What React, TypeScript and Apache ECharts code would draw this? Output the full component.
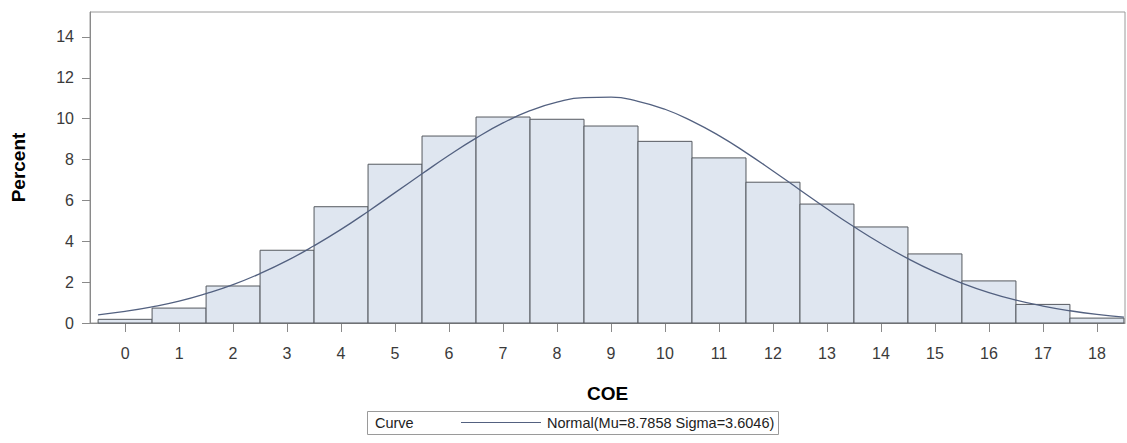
import React, { useEffect, useRef } from "react";
import * as echarts from "echarts";

const coeValues = [0, 1, 2, 3, 4, 5, 6, 7, 8, 9, 10, 11, 12, 13, 14, 15, 16, 17, 18];
const percentValues = [0.18, 0.73, 1.81, 3.56, 5.69, 7.77, 9.15, 10.08, 9.97, 9.64, 8.89, 8.08, 6.89, 5.82, 4.7, 3.38, 2.06, 0.91, 0.24];
const curveX = [-0.5, 0, 0.5, 1, 1.5, 2, 2.5, 3, 3.5, 4, 4.5, 5, 5.5, 6, 6.5, 7, 7.5, 8, 8.5, 9, 9.5, 10, 10.5, 11, 11.5, 12, 12.5, 13, 13.5, 14, 14.5, 15, 15.5, 16, 16.5, 17, 17.5, 18, 18.5];
const curveY = [0.40, 0.57, 0.79, 1.07, 1.44, 1.88, 2.42, 3.05, 3.78, 4.58, 5.46, 6.38, 7.3, 8.21, 9.05, 9.79, 10.39, 10.81, 11.03, 11.05, 10.85, 10.46, 9.88, 9.17, 8.34, 7.44, 6.51, 5.59, 4.71, 3.89, 3.15, 2.5, 1.95, 1.49, 1.12, 0.83, 0.6, 0.42, 0.29];
const yTicks = [0, 2, 4, 6, 8, 10, 12, 14];
const curveName = "Normal(Mu=8.7858 Sigma=3.6046)";

const FONT = "'Liberation Sans', Arial, sans-serif";

export default function App() {
  const ref = useRef<HTMLDivElement>(null);
  useEffect(() => {
    document.body.style.margin = "0";
    const chart = echarts.init(ref.current!, null, { renderer: "svg" });
    const barData = coeValues.map((c, i) => [c, percentValues[i]]);
    const lineData = curveX.map((x, i) => [x, curveY[i]]);
    chart.setOption({
      animation: false,
      textStyle: { fontFamily: FONT },
      grid: {
        left: 90,
        top: 12,
        right: 2,
        bottom: 120,
        show: true,
        borderColor: "#9a9a9a",
        borderWidth: 1,
      },
      xAxis: {
        type: "value",
        min: -0.65,
        max: 18.52,
        name: "COE",
        nameLocation: "middle",
        nameGap: 61,
        nameTextStyle: { fontFamily: FONT, fontSize: 19, fontWeight: "bold", color: "#000" },
        axisLine: { show: true, onZero: false, lineStyle: { color: "#8a8a8a" } },
        axisTick: { show: true, length: 9, customValues: coeValues, lineStyle: { color: "#8a8a8a" } },
        axisLabel: { customValues: coeValues, fontFamily: FONT, fontSize: 16, color: "#3a3a3a", margin: 22 },
        splitLine: { show: false },
      },
      yAxis: {
        type: "value",
        min: 0,
        max: 15.22,
        name: "Percent",
        nameLocation: "middle",
        nameRotate: 90,
        nameGap: 62,
        nameTextStyle: { fontFamily: FONT, fontSize: 19, fontWeight: "bold", color: "#000" },
        axisLine: { show: true, onZero: false, lineStyle: { color: "#8a8a8a" } },
        axisTick: { show: true, length: 8, customValues: yTicks, lineStyle: { color: "#8a8a8a" } },
        axisLabel: { customValues: yTicks, fontFamily: FONT, fontSize: 16, color: "#3a3a3a", margin: 16 },
        splitLine: { show: false },
      },
      legend: {
        left: 461,
        top: 415,
        padding: 0,
        icon: "rect",
        itemWidth: 80,
        itemHeight: 1,
        itemGap: 8,
        data: [curveName],
        textStyle: { fontFamily: FONT, fontSize: 14.5, color: "#222", padding: [0, 0, 0, 1] },
      },
      graphic: [
        {
          type: "rect",
          shape: { x: 367.5, y: 411.5, width: 411, height: 23 },
          style: { fill: "none", stroke: "#9a9a9a", lineWidth: 1 },
        },
        {
          type: "text",
          x: 375,
          y: 423,
          style: { text: "Curve", fontFamily: FONT, fontSize: 14.5, fill: "#222", verticalAlign: "middle" },
        },
      ],
      series: [
        {
          type: "custom",
          name: "Bars",
          data: barData,
          renderItem: (params: any, api: any) => {
            const x = api.value(0);
            const y = api.value(1);
            const p0 = api.coord([x - 0.5, y]);
            const p1 = api.coord([x + 0.5, 0]);
            return {
              type: "rect",
              shape: { x: p0[0], y: p0[1], width: p1[0] - p0[0], height: p1[1] - p0[1] },
              style: { fill: "#dfe6f0", stroke: "#55595f", lineWidth: 1 },
            };
          },
          z: 2,
        },
        {
          type: "line",
          name: curveName,
          data: lineData,
          smooth: true,
          symbol: "none",
          showSymbol: false,
          lineStyle: { color: "#536180", width: 1.3 },
          itemStyle: { color: "#536180" },
          z: 3,
        },
      ],
    });
    return () => chart.dispose();
  }, []);
  return <div ref={ref} style={{ width: 1127, height: 443 }} />;
}
